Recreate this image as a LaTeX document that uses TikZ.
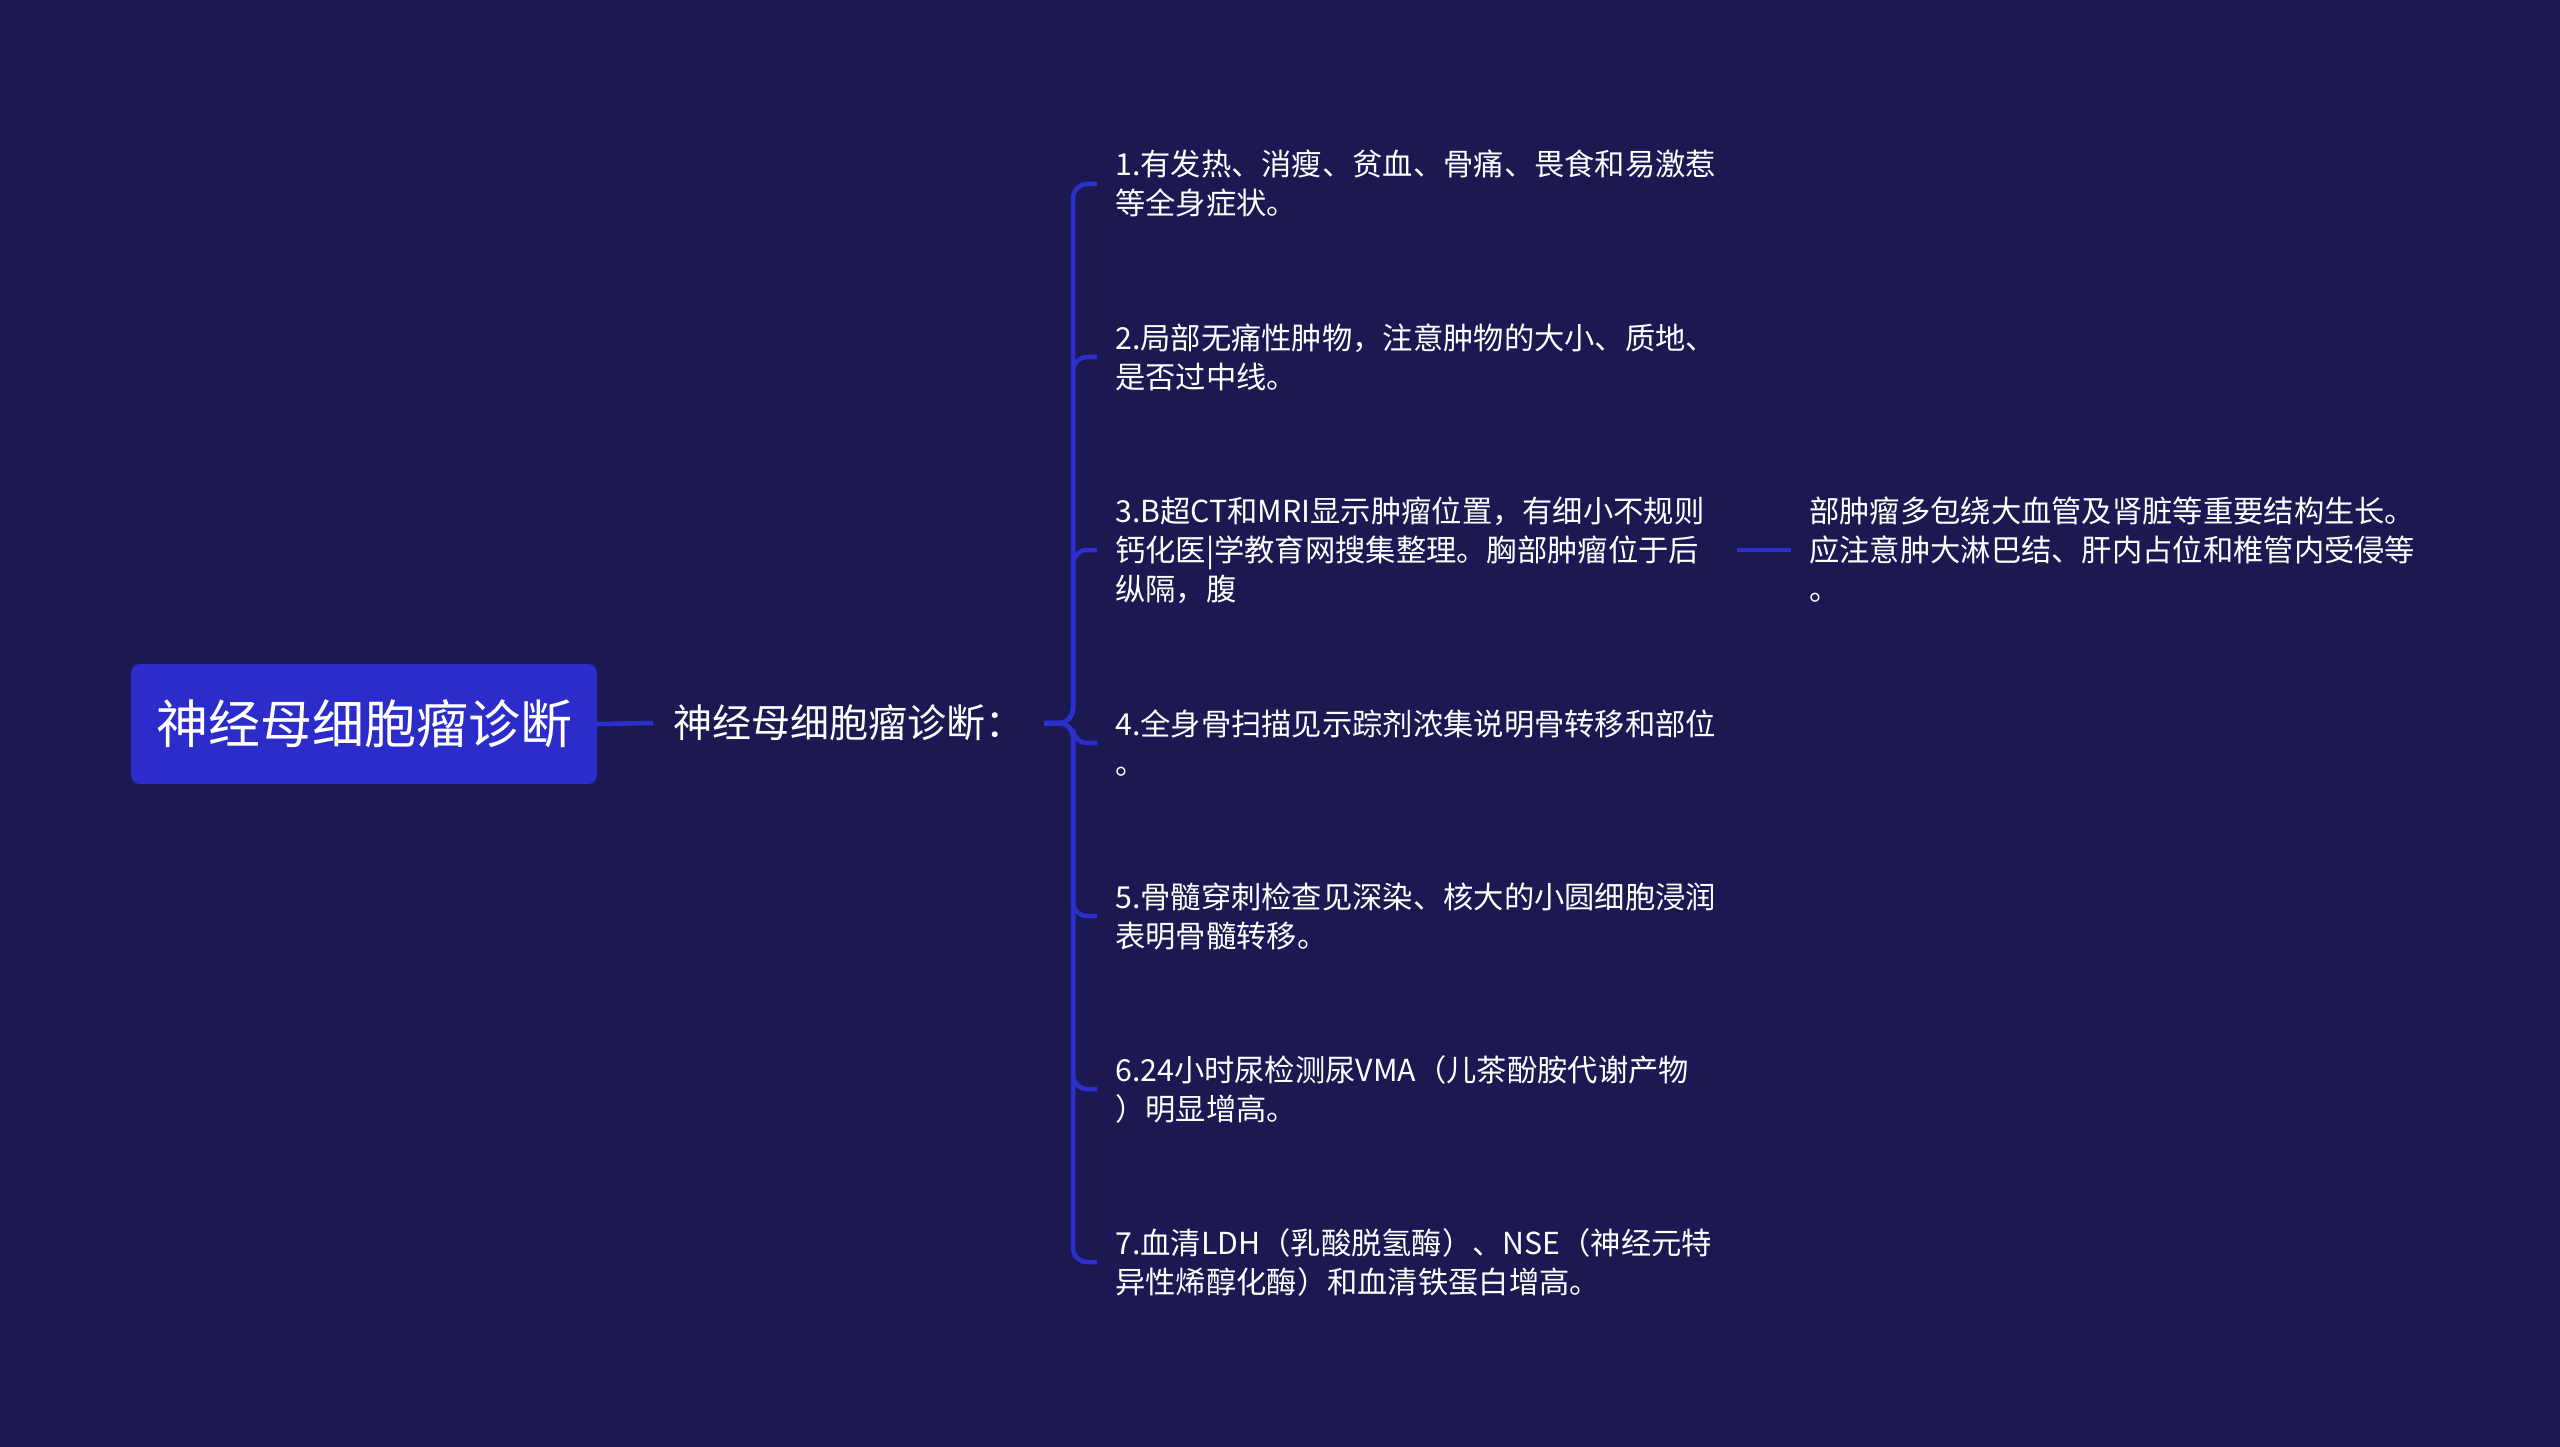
\documentclass[tikz,border=0pt]{standalone}
\usepackage{fontspec}
\setmainfont{Noto Sans CJK SC}
\definecolor{bgc}{HTML}{1B1852}
\definecolor{boxc}{HTML}{2B2CC9}
\definecolor{linec}{HTML}{2B30CC}
\begin{document}
\begin{tikzpicture}[x=1pt,y=-1pt,
  conn/.style={draw=linec,line width=4.5pt},
  hook/.style={conn,rounded corners=14pt},
  rootbox/.style={fill=boxc,rounded corners=9pt,text=white,minimum width=466pt,minimum height=120pt,inner sep=0pt,font=\fontsize{52}{60}\selectfont},
  midtext/.style={text=white,anchor=west,inner xsep=20pt,inner ysep=0pt,font=\fontsize{39}{46}\selectfont},
  leaf/.style={text=white,anchor=west,inner xsep=18pt,inner ysep=0pt,align=left,text width=604pt,font=\fontsize{30.3}{39}\selectfont},
  rleaf/.style={text=white,anchor=west,inner xsep=18pt,inner ysep=0pt,align=left,font=\fontsize{30.3}{39}\selectfont}]
\fill[bgc] (0,0) rectangle (2560,1447);
\useasboundingbox (0,0) rectangle (2560,1447);

\node[rootbox] (root) at (364,724) {神经母细胞瘤诊断};
\node[midtext] (mid) at (653,723) {神经母细胞瘤诊断：};

\node[leaf] (l1) at (1097,184) {1.有发热、消瘦、贫血、骨痛、畏食和易激惹\\等全身症状。};
\node[leaf] (l2) at (1097,357) {2.局部无痛性肿物，注意肿物的大小、质地、\\是否过中线。};
\node[leaf] (l3) at (1097,550) {3.B超CT和MRI显示肿瘤位置，有细小不规则\\钙化医|学教育网搜集整理。胸部肿瘤位于后\\纵隔，腹};
\node[leaf] (l4) at (1097,743) {4.全身骨扫描见示踪剂浓集说明骨转移和部位\\。};
\node[leaf] (l5) at (1097,916) {5.骨髓穿刺检查见深染、核大的小圆细胞浸润\\表明骨髓转移。};
\node[leaf] (l6) at (1097,1089) {6.24小时尿检测尿VMA（儿茶酚胺代谢产物\\）明显增高。};
\node[leaf] (l7) at (1097,1262) {7.血清LDH（乳酸脱氢酶）、NSE（神经元特\\异性烯醇化酶）和血清铁蛋白增高。};

\node[rleaf] (r3) at (1791,550) {部肿瘤多包绕大血管及肾脏等重要结构生长。\\应注意肿大淋巴结、肝内占位和椎管内受侵等\\。};

\coordinate (br) at (1073,723);

\draw[conn] (root.east) -- (mid.west);
\foreach \n in {l1,l2,l3,l4,l5,l6,l7}{
  \draw[hook] (mid.east) -- (br) |- (\n.west);
}
\draw[conn] (l3.east) -- (r3.west);
\end{tikzpicture}
\end{document}
